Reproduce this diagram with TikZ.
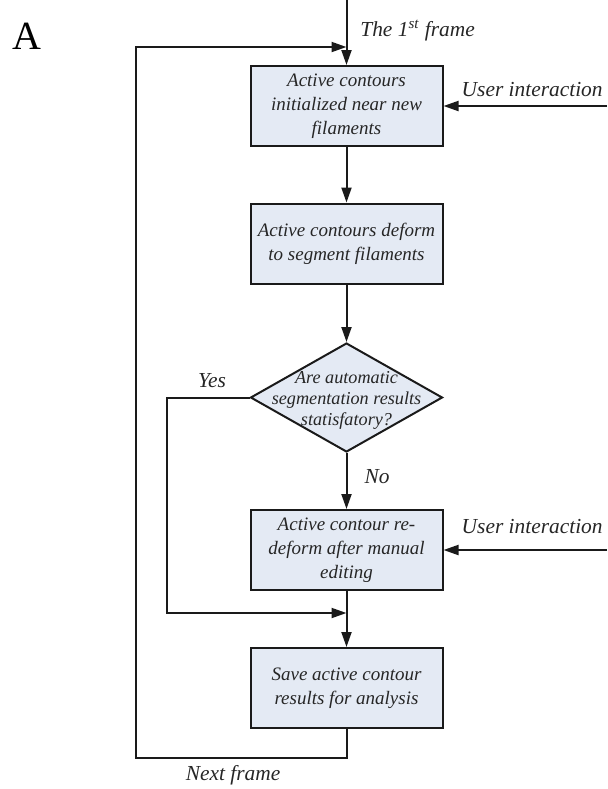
\documentclass[tikz,border=0pt]{standalone}
\usepackage{fontspec}
\setmainfont{Liberation Serif}
\usepackage{tikz}
\usetikzlibrary{positioning,arrows.meta,shapes.geometric}
\definecolor{fcFill}{HTML}{E4EAF4}
\definecolor{fcLine}{HTML}{1A1A1A}
\definecolor{fcText}{HTML}{262626}

\begin{document}
\begin{tikzpicture}[
  x=0.5pt, y=-0.5pt,
  stepbox/.style={draw=fcLine, line width=1pt, fill=fcFill, align=center, text=fcText,
                  font=\fontsize{9.5}{12}\selectfont\itshape,
                  minimum width=96pt, minimum height=40pt, inner sep=0pt},
  decision/.style={diamond, draw=fcLine, line width=1pt, fill=fcFill,
                   minimum width=96pt, minimum height=54.5pt, inner sep=0pt},
  dtext/.style={align=center, text=fcText, font=\fontsize{9.1}{10.3}\selectfont\itshape, inner sep=0pt},
  ltext/.style={text=fcText, font=\fontsize{10.7}{13}\selectfont\itshape, inner sep=0pt},
  flow/.style={-{Triangle[length=7.5pt,width=5pt]}, line width=1pt, draw=fcLine},
]
\useasboundingbox (0,0) rectangle (607,789);

% Panel letter
\node[font=\fontsize{20}{24}\selectfont, inner sep=0pt] (panel) at (27,36) {A};

% Steps
\node[stepbox] (b1) at (346.5,106) {Active contours\\initialized near new\\filaments};
\node[stepbox] (b2) at (346.5,243.5) {Active contours deform\\to segment filaments};
\node[decision] (dec) at (346.5,397.5) {};
\node[dtext] (dect) at ([yshift=-1.5pt]dec.center) {Are automatic\\segmentation results\\statisfatory?};
\node[stepbox] (b3) at (346.5,550) {Active contour re-\\deform after manual\\editing};
\node[stepbox] (b4) at (346.5,688) {Save active contour\\results for analysis};

% Free ends and bends
\coordinate (top) at (346.5,0);
\coordinate (join1) at (346.5,47);
\coordinate (ui1) at (607,106);
\coordinate (ui2) at (607,550);
\coordinate (yesL) at (167,613);
\coordinate (merge) at (346.5,613);
\coordinate (loopL) at (136,758);

% Labels
\node[ltext, anchor=west] (first) at (360,31) {The 1\textsuperscript{st} frame};
\node[ltext, anchor=east] (user1) at (603,90) {User interaction};
\node[ltext, anchor=east] (user2) at (603,527) {User interaction};
\node[ltext] (yes) at (212,381) {Yes};
\node[ltext] (no) at (377,477) {No};
\node[ltext] (next) at (233,775) {Next frame};

% Flows
\draw[flow] (top) -- (b1);
\draw[flow] (b1) -- (b2);
\draw[flow] (b2) -- (dec);
\draw[flow] (dec) -- (b3);
\draw[flow] (b3) -- (b4);
\draw[flow] (ui1) -- (b1.east);
\draw[flow] (ui2) -- (b3.east);
\draw[flow] (dec.west) -| (yesL) -- (merge);
\draw[flow] (b4.south) |- (loopL) |- (join1);

\end{tikzpicture}
\end{document}
